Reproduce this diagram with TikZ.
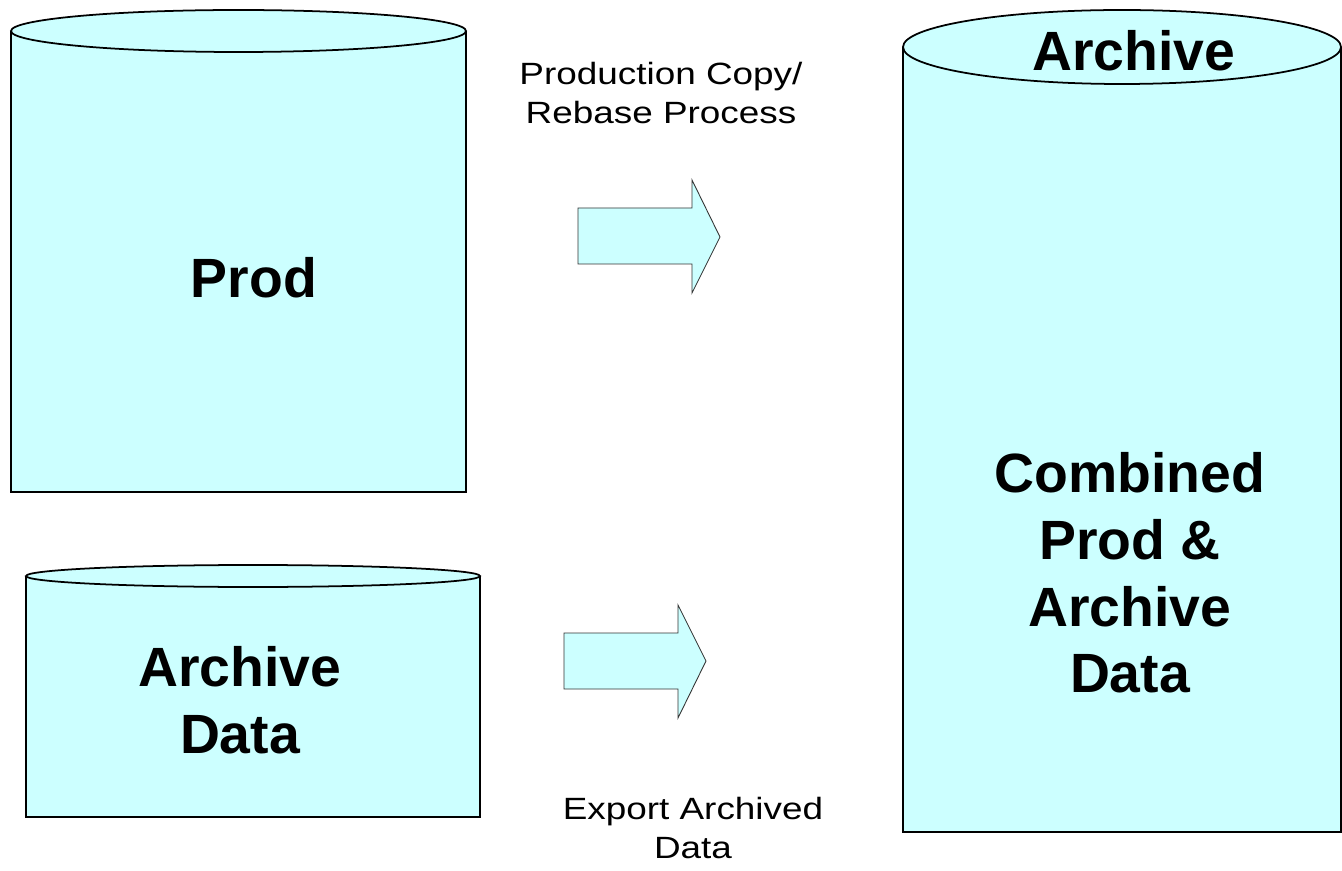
\documentclass[tikz,border=0pt]{standalone}
\usepackage{fontspec}
\setmainfont{Liberation Sans}
\usepackage{xcolor}
\usepackage{tikz}
\usetikzlibrary{positioning}
\definecolor{dbcyan}{HTML}{CCFFFF}

\begin{document}
\begin{tikzpicture}[x=0.02cm, y=-0.02cm,
    dblabel/.style={font=\fontsize{31.5}{38}\selectfont\bfseries, align=center},
    steplabel/.style={font=\fontsize{17.5}{22}\selectfont, align=center},
    dbline/.style={line width=1pt, fill=dbcyan},
    fatarrow/.style={fill=dbcyan, draw=black!80, line width=0.5pt, line join=miter}]
    \useasboundingbox (0,0) rectangle (1342,871);

    % Base Prod
    \path[dbline, draw] (11,31) -- (11,492) -- (466,492) -- (466,31);
    \draw[dbline] (238.5,31) ellipse [x radius=227.5, y radius=21];
    \node[dblabel] (prod) at (254,278) {Prod};

    % Base Archive Data
    \path[dbline, draw] (26,576) -- (26,817) -- (480,817) -- (480,576);
    \draw[dbline] (253,576) ellipse [x radius=227, y radius=11];
    \node[dblabel] (archdata) at (240,700) {Archive\\Data};

    % Base Archive (resultat)
    \path[dbline, draw] (903,47) -- (903,832) -- (1341,832) -- (1341,47);
    \draw[dbline] (1122,47) ellipse [x radius=219, y radius=37];
    \node[dblabel] (archive) at (1134,51) {Archive};
    \node[dblabel] (combined) at (1130,573) {Combined\\Prod \&\\Archive\\Data};

    % Fleche : copie / rebase
    \draw[fatarrow] (578,208) -- (692,208) -- (692,180) -- (720,237)
        -- (692,293) -- (692,264) -- (578,264) -- cycle;
    \node[steplabel] (rebase) at (661,93)
        {\scalebox{1.2}[1]{Production Copy/}\\\scalebox{1.2}[1]{Rebase Process}};

    % Fleche : export
    \draw[fatarrow] (564,633) -- (678,633) -- (678,605) -- (706,661)
        -- (678,718) -- (678,689) -- (564,689) -- cycle;
    \node[steplabel] (export) at (693,828)
        {\scalebox{1.2}[1]{Export Archived}\\\scalebox{1.2}[1]{Data}};
\end{tikzpicture}
\end{document}
